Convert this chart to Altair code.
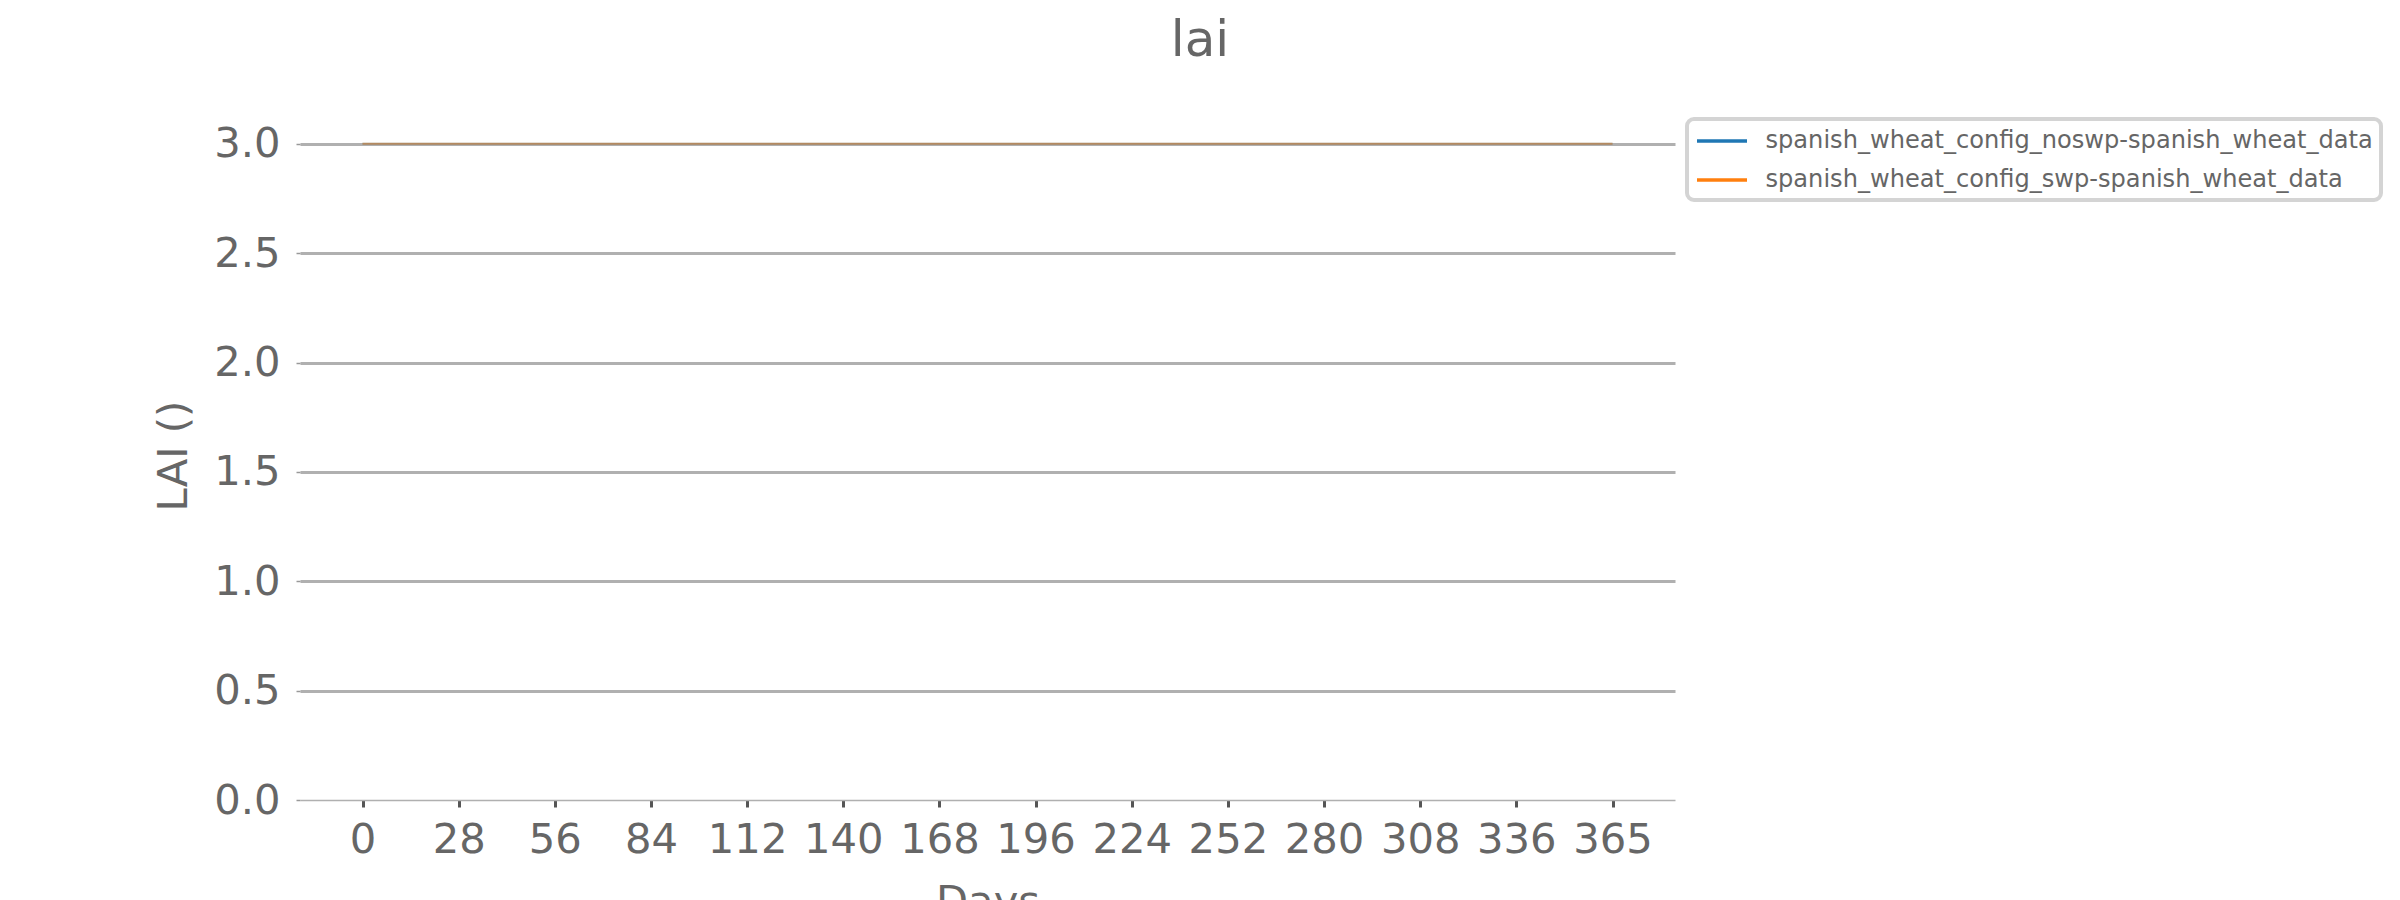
import altair as alt
import pandas as pd

# Data: both series are flat at LAI = 3.0 over days 0..365
days = [0, 28, 56, 84, 112, 140, 168, 196, 224, 252, 280, 308, 336, 364]
lai_noswp = [3.0, 3.0, 3.0, 3.0, 3.0, 3.0, 3.0, 3.0, 3.0, 3.0, 3.0, 3.0, 3.0, 3.0]
lai_swp = [3.0, 3.0, 3.0, 3.0, 3.0, 3.0, 3.0, 3.0, 3.0, 3.0, 3.0, 3.0, 3.0, 3.0]
series_names = [
    "spanish_wheat_config_noswp-spanish_wheat_data",
    "spanish_wheat_config_swp-spanish_wheat_data",
]
series_colors = ["#1f77b4", "#ff7f0e"]
x_ticks = [0, 28, 56, 84, 112, 140, 168, 196, 224, 252, 280, 308, 336, 364]
y_ticks = [0.0, 0.5, 1.0, 1.5, 2.0, 2.5, 3.0]

rows = []
for d, v in zip(days, lai_noswp):
    rows.append({"day": d, "lai": v, "series": series_names[0]})
for d, v in zip(days, lai_swp):
    rows.append({"day": d, "lai": v, "series": series_names[1]})
df = pd.DataFrame(rows)

TEXT = "#666666"
FONT = "DejaVu Sans"

chart = (
    alt.Chart(df)
    .mark_line(strokeWidth=2, opacity=0.5)
    .encode(
        x=alt.X(
            "day:Q",
            scale=alt.Scale(domain=[-18.2, 382.2], nice=False, zero=False),
            axis=alt.Axis(
                values=x_ticks,
                labelExpr="datum.value == 364 ? '365' : datum.value",
                title="Days",
                grid=False,
                domain=True,
                domainColor="#b0b0b0",
                domainWidth=1.5,
                ticks=True,
                tickSize=7,
                tickWidth=3,
                tickColor="#555555",
                labelFontSize=41.7,
                labelColor=TEXT,
                labelFont=FONT,
                labelPadding=12,
                labelFlush=False,
                labelOverlap=False,
                titleFontSize=41.7,
                titleFont=FONT,
                titleColor=TEXT,
                titleFontWeight="normal",
                titleBaseline="alphabetic",
                titleY=114,
            ),
        ),
        y=alt.Y(
            "lai:Q",
            scale=alt.Scale(domain=[0, 3.15], nice=False, zero=False),
            axis=alt.Axis(
                values=y_ticks,
                format=".1f",
                title="LAI ()",
                grid=True,
                gridColor="#b0b0b0",
                gridWidth=3,
                gridOpacity={"expr": "datum.value == 0 ? 0 : 1"},
                domain=False,
                ticks=True,
                tickSize=4,
                tickWidth=1.5,
                tickColor="#999999",
                labelFontSize=41.7,
                labelColor=TEXT,
                labelFont=FONT,
                labelPadding=16,
                labelFlush=False,
                labelOverlap=False,
                titleFontSize=41.7,
                titleFont=FONT,
                titleColor=TEXT,
                titleFontWeight="normal",
                titleBaseline="alphabetic",
                titleX=-114,
            ),
        ),
        color=alt.Color(
            "series:N",
            scale=alt.Scale(domain=series_names, range=series_colors),
            legend=alt.Legend(
                title=None,
                orient="none",
                legendX=1387,
                legendY=8,
                symbolType="M-2,0H2",
                symbolSize=625,
                symbolStrokeWidth=3.5,
                symbolOpacity=1,
                symbolOffset=13,
                labelOffset=29,
                labelFontSize=24.1,
                labelFont=FONT,
                labelColor=TEXT,
                rowPadding=12,
                padding=7.5,
                strokeColor="#d4d4d4",
                cornerRadius=7,
                fillColor="white",
                labelLimit=1000,
            ),
        ),
    )
    .properties(
        width=1375,
        height=689,
        background="white",
        autosize=alt.AutoSizeParams(type="none"),
        padding={"left": 300, "top": 111, "right": 725, "bottom": 100},
        title=alt.TitleParams(
            "lai",
            fontSize=50,
            font=FONT,
            color=TEXT,
            fontWeight="normal",
            anchor="middle",
            frame="group",
            dx=212.5,
            dy=48,
            offset=53,
            baseline="alphabetic",
        ),
    )
    .configure_view(strokeWidth=0, stroke="transparent")
    .configure_legend(strokeWidth=4)
)

chart.save("out.html", embed_options={"renderer": "svg", "actions": False})
